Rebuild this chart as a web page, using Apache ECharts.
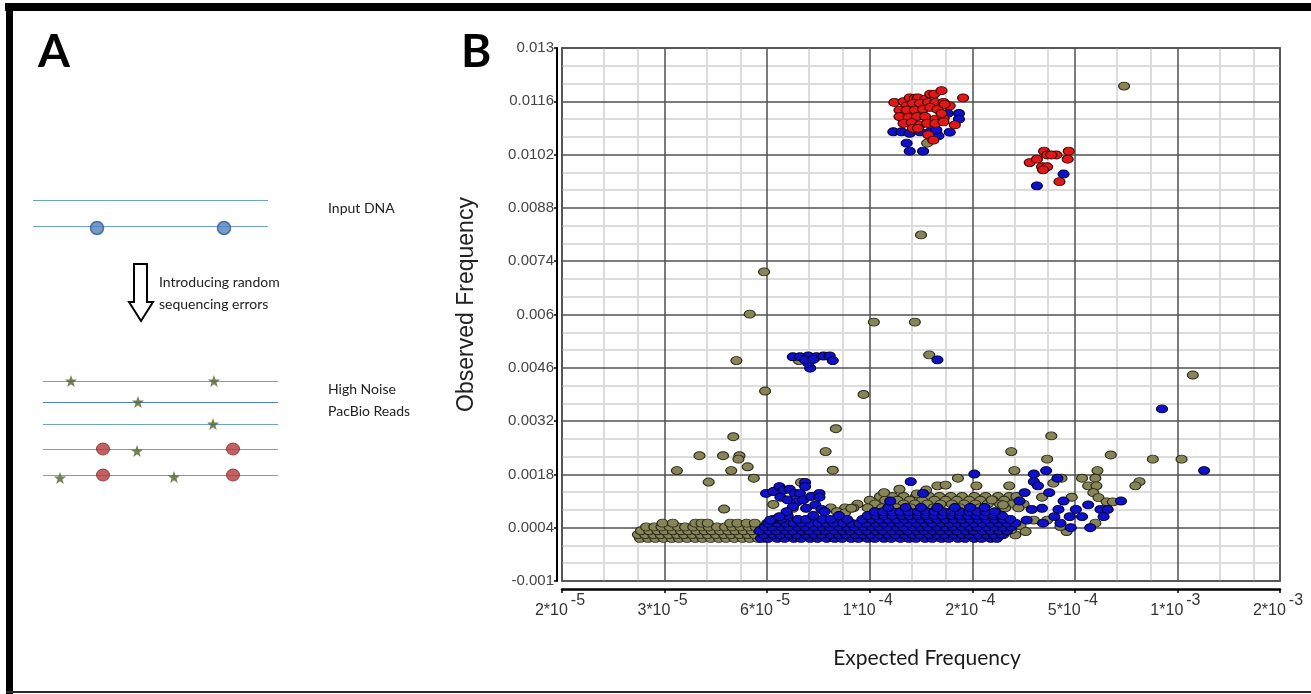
<!DOCTYPE html>
<html><head><meta charset="utf-8">
<script src="https://cdn.jsdelivr.net/npm/echarts@6/dist/echarts.min.js"></script>
<style>html,body{margin:0;padding:0;background:#fff}#c{width:1311px;height:694px}</style>
</head><body><div id="c"></div>
<script>
// ================= Panel B : scatter data =================
// x is the position on the Expected-Frequency axis: integer k = k-th tick label below
const xTickBase = ['2*10','3*10','6*10','1*10','2*10','5*10','1*10','2*10'];
const xTickExp  = ['-5','-5','-5','-4','-4','-4','-3','-3'];
const xMinorFractions = [0.41, 0.74];
const yTickValues = [-0.001, 0.0004, 0.0018, 0.0032, 0.0046, 0.006, 0.0074, 0.0088, 0.0102, 0.0116, 0.013];
const yTickLabels = ['-0.001','0.0004','0.0018','0.0032','0.0046','0.006','0.0074','0.0088','0.0102','0.0116','0.013'];

// khaki (grey-green) points: dense rows [observed, [expected positions]]
const khakiLeftRows = [
  [0.00012,[0.76,0.84,0.91,0.99,1.07,1.14,1.22,1.30,1.37,1.45,1.53,1.60,1.68,1.76,1.83,1.91,1.99]],
  [0.00022,[0.74,0.81,0.89,0.96,1.04,1.12,1.19,1.27,1.35,1.42,1.50,1.58,1.65,1.73,1.81,1.88,1.96]],
  [0.00032,[0.77,0.85,0.93,1.00,1.08,1.16,1.23,1.31,1.39,1.46,1.54,1.62,1.69,1.77,1.85,1.92]],
  [0.00042,[0.82,0.90,0.97,1.05,1.13,1.20,1.28,1.36,1.43,1.51,1.59,1.66,1.74,1.82,1.89,1.97]],
  [0.00052,[0.98,1.08,1.30,1.36,1.42,1.64,1.71,1.80,1.88,2.00]]
];
const khakiUpperRows = [
  [0.00122,[3.10,3.22,3.33,3.45,3.58,3.68,3.79,3.90,4.02,4.13,4.25,4.36]],
  [0.00112,[3.00,3.15,3.27,3.39,3.51,3.63,3.74,3.85,3.97,4.08,4.20,4.31,4.43]],
  [0.00102,[2.88,3.05,3.20,3.33,3.44,3.56,3.69,3.80,3.92,4.03,4.15,4.27,4.39,4.50]],
  [0.00092,[2.62,2.76,2.84,2.98,3.12,3.26,3.40,3.62,3.88,4.07,4.32,4.45]]
];
const khakiPoints = [
  [5.48,0.01200],[3.50,0.00809],[1.97,0.00712],[1.83,0.00601],[3.04,0.00580],[3.44,0.00580],
  [3.58,0.00494],[3.56,0.01050],[2.31,0.00479],[1.70,0.00479],[1.98,0.00399],[2.94,0.00390],
  [2.67,0.00300],[2.57,0.00240],[2.64,0.00191],[1.67,0.00279],[1.34,0.00229],[1.57,0.00229],
  [1.73,0.00229],[1.72,0.00220],[1.81,0.00200],[1.65,0.00190],[1.12,0.00190],[1.87,0.00170],
  [1.43,0.00160],[1.58,0.00089],[2.06,0.00101],[2.33,0.00159],[6.15,0.00441],[6.04,0.00220],
  [4.77,0.00281],[4.38,0.00240],[5.35,0.00231],[5.76,0.00220],[4.73,0.00220],[4.41,0.00190],
  [5.22,0.00190],[5.07,0.00170],[5.20,0.00170],[5.63,0.00161],[5.59,0.00150],[3.86,0.00170],
  [4.36,0.00150],[4.04,0.00150],[3.66,0.00150],[3.74,0.00152],[3.29,0.00141],[3.14,0.00132],
  [3.46,0.00129],[3.55,0.00139],[5.13,0.00150],[5.21,0.00150],[5.18,0.00132],[4.87,0.00170],
  [4.79,0.00157],[5.23,0.00119],[5.31,0.00108],[5.37,0.00108],[4.97,0.00120],[4.68,0.00120],
  [5.20,0.00052],[4.92,0.00030],[4.86,0.00043],[4.42,0.00021],[4.30,0.00021],[4.73,0.00060],
  [4.60,0.00060],[4.30,0.00100],[4.43,0.00122],[4.19,0.00113],[4.38,0.00035],[4.47,0.00045],
  [4.52,0.00030],[2.68,0.00082],[2.76,0.00079],[2.82,0.00091],[2.25,0.00091]
];

// blue points
const blueRows = [
  [0.00012,[1.94,2.01,2.10,2.17,2.26,2.33,2.42,2.49,2.58,2.66,2.73,2.82,2.89,2.98,3.05,3.14,3.21,3.30,3.38,3.45,3.54,3.61,3.70,3.77,3.86,3.93,4.02,4.09,4.18,4.24]],
  [0.00022,[1.97,2.06,2.13,2.22,2.29,2.38,2.46,2.53,2.62,2.70,2.77,2.86,2.94,3.01,3.10,3.18,3.25,3.34,3.42,3.49,3.58,3.66,3.73,3.82,3.90,3.97,4.06,4.14,4.21,4.29]],
  [0.00032,[1.93,2.02,2.09,2.18,2.25,2.34,2.41,2.50,2.57,2.66,2.74,2.81,2.90,2.97,3.06,3.13,3.22,3.30,3.37,3.46,3.53,3.62,3.69,3.78,3.85,3.94,4.01,4.10,4.18,4.26,4.34]],
  [0.00042,[1.98,2.05,2.14,2.21,2.30,2.37,2.46,2.54,2.61,2.70,2.78,2.85,2.94,3.02,3.09,3.18,3.26,3.33,3.42,3.50,3.57,3.66,3.74,3.81,3.90,3.98,4.05,4.14,4.22,4.30,4.38]],
  [0.00052,[2.01,2.10,2.18,2.26,2.33,2.42,2.50,2.58,2.65,2.74,2.82,2.90,2.97,3.06,3.14,3.22,3.29,3.38,3.46,3.54,3.61,3.70,3.78,3.86,3.93,4.02,4.10,4.18,4.26,4.34,4.42]],
  [0.00062,[2.06,2.14,2.30,2.38,2.54,2.62,2.78,2.93,3.02,3.10,3.18,3.26,3.34,3.42,3.50,3.58,3.66,3.74,3.82,3.90,3.98,4.06,4.14,4.22,4.30,4.37]],
  [0.00072,[2.20,2.45,2.70,2.98,3.06,3.14,3.22,3.31,3.39,3.47,3.55,3.63,3.71,3.80,3.88,3.96,4.04,4.12,4.21,4.29]],
  [0.00082,[3.05,3.13,3.22,3.30,3.38,3.47,3.55,3.63,3.72,3.80,3.88,3.97,4.05,4.13,4.22]],
  [0.00093,[3.18,3.35,3.50,3.66,3.83,3.98,4.12]]
];
const bluePoints = [
  [1.99,0.00130],[2.06,0.00135],[2.12,0.00148],[2.16,0.00139],[2.22,0.00141],[2.27,0.00130],
  [2.37,0.00159],[2.37,0.00148],[2.32,0.00130],[2.13,0.00120],[2.20,0.00113],[2.29,0.00108],
  [2.35,0.00113],[2.43,0.00122],[2.51,0.00130],[2.51,0.00120],[2.25,0.00095],[2.38,0.00091],
  [2.47,0.00100],[2.53,0.00088],[2.56,0.00082],[2.19,0.00082],[2.12,0.00069],[2.03,0.00060],
  [2.25,0.00489],[2.32,0.00489],[2.40,0.00491],[2.48,0.00489],[2.55,0.00491],[2.61,0.00491],
  [2.64,0.00479],[2.42,0.00459],[2.40,0.00472],[2.37,0.00481],[2.45,0.00482],
  [3.66,0.00481],[5.85,0.00352],[6.26,0.00190],
  [4.02,0.00181],[3.40,0.00161],[3.52,0.00130],[3.20,0.00110],[4.60,0.00181],[4.72,0.00190],
  [4.83,0.00170],[4.60,0.00161],[4.64,0.00150],[4.75,0.00132],[4.51,0.00132],[4.46,0.00110],
  [4.89,0.00110],[5.45,0.00110],[5.13,0.00100],[5.25,0.00088],[5.32,0.00088],[5.01,0.00088],
  [4.84,0.00088],[4.68,0.00091],[4.58,0.00088],[5.28,0.00069],[5.07,0.00069],[4.95,0.00069],
  [4.80,0.00069],[4.53,0.00060],[5.15,0.00040],[4.96,0.00040],[4.86,0.00052],[4.69,0.00052],
  [3.76,0.01128],[3.87,0.01128],[3.87,0.01113],[3.23,0.01080],[3.31,0.01080],[3.39,0.01076],
  [3.49,0.01080],[3.59,0.01080],[3.67,0.01069],[3.78,0.01079],[3.36,0.01050],[3.39,0.01029],
  [3.52,0.01029],[3.65,0.01085],[4.89,0.00969],[4.63,0.00938]
];

// red points
const redPoints = [
  [3.24,0.01157],[3.33,0.01159],[3.39,0.01169],[3.44,0.01168],[3.47,0.01169],[3.54,0.01165],
  [3.59,0.01179],[3.63,0.01179],[3.70,0.01188],[3.91,0.01169],[3.36,0.01148],[3.42,0.01155],
  [3.49,0.01155],[3.57,0.01157],[3.64,0.01157],[3.72,0.01157],[3.78,0.01148],[3.29,0.01137],
  [3.36,0.01137],[3.44,0.01137],[3.52,0.01139],[3.59,0.01144],[3.66,0.01139],[3.73,0.01152],
  [3.29,0.01120],[3.38,0.01118],[3.46,0.01120],[3.54,0.01120],[3.64,0.01113],[3.72,0.01115],
  [3.33,0.01102],[3.41,0.01104],[3.49,0.01098],[3.56,0.01102],[3.64,0.01102],[3.72,0.01106],
  [3.83,0.01098],[3.42,0.01089],[3.47,0.01089],[3.57,0.01072],[3.62,0.01058],[3.70,0.01128],
  [4.56,0.00999],[4.63,0.01008],[4.70,0.01029],[4.73,0.01019],[4.82,0.01019],[4.94,0.01029],
  [4.93,0.01008],[4.68,0.00988],[4.73,0.00988],[4.69,0.00980],[4.85,0.00949],[4.77,0.01019]
];

// ================= Panel A : schematic (diagram units) =================
const dnaStrands   = [[33,268,200],[33,268,226]];          // [xStart, xEnd, y]
const dnaVariants  = [[97,228],[224,228]];
const readStrands  = [[43,278,381],[43,278,402],[43,278,424],[43,278,449],[43,278,475]];
const readErrors   = [[71,381],[214,381],[138,402],[213,424],[137,451],[60,478],[174,477]];
const readVariants = [[103,449],[233,449],[103,475],[233,475]];
const arrowPoints  = [[134,264],[147,264],[147,302],[153,302],[141,321],[129,302],[134,302]];

// ---------------- build ----------------
function rowsToPoints(rows){ const out=[]; rows.forEach(r=>r[1].forEach(u=>out.push([u,r[0]]))); return out; }
const yMinor=[]; for(let i=0;i<yTickValues.length-1;i++){const a=yTickValues[i],b=yTickValues[i+1]; yMinor.push(a+(b-a)/3, a+2*(b-a)/3);}
const xMinor=[]; for(let k=0;k<xTickBase.length-1;k++){ xMinorFractions.forEach(f=>xMinor.push(k+f)); }

const FN='Liberation Sans, Arial';
const chart = echarts.init(document.getElementById('c'));
const starPath='path://M12,0.6 L14.9,8.5 L23.3,8.7 L16.6,13.8 L19.1,21.9 L12,17.2 L4.9,21.9 L7.4,13.8 L0.7,8.7 L9.1,8.5 Z';

const option = {
  animation:false,
  backgroundColor:'#fff',
  grid:[
    {left:562, top:48, width:718, height:533, show:true, borderColor:'#6e6e6e', borderWidth:2},
    {left:0, top:0, width:450, height:694, show:false}
  ],
  xAxis:[
    {gridIndex:0, type:'value', min:0, max:7, interval:1, position:'bottom', offset:8, z:2,
     axisLine:{show:true, onZero:false, lineStyle:{color:'#000', width:2.5}},
     axisTick:{show:true, length:4, lineStyle:{color:'#000', width:1.5}},
     axisLabel:{margin:12, formatter:v=>{const i=Math.round(v); return '{b|'+xTickBase[i]+'}{s|'+xTickExp[i]+'}';},
       rich:{b:{fontFamily:FN, fontSize:16, lineHeight:18, color:'#333', verticalAlign:'bottom'},
             s:{fontFamily:FN, fontSize:16, lineHeight:18, color:'#333', verticalAlign:'bottom', padding:[0,4,10,3]}}},
     splitLine:{show:true, lineStyle:{color:'#505050', width:1.5}},
     name:'Expected Frequency', nameLocation:'middle', nameGap:59,
     nameTextStyle:{fontFamily:'Lato', fontSize:21, color:'#1a1a1a', padding:[0,0,0,12]}},
    {gridIndex:0, type:'value', min:0, max:7, z:1, axisLine:{show:false}, axisLabel:{show:false},
     axisTick:{show:false, customValues:xMinor}, splitLine:{show:true, lineStyle:{color:'#dcdcdc', width:2}}},
    {gridIndex:1, type:'value', min:0, max:450, show:false}
  ],
  yAxis:[
    {gridIndex:0, type:'value', min:-0.001, max:0.013, offset:5, z:2,
     axisLine:{show:true, onZero:false, lineStyle:{color:'#000', width:2}},
     axisTick:{show:true, length:3, customValues:yTickValues, lineStyle:{color:'#000', width:1.5}},
     axisLabel:{customValues:yTickValues, margin:3, fontFamily:'Liberation Sans', fontSize:15, color:'#444',
       formatter:v=>{const i=yTickValues.findIndex(t=>Math.abs(t-v)<1e-9); return i>=0?yTickLabels[i]:'';}},
     splitLine:{show:true, lineStyle:{color:'#505050', width:1.5}},
     name:'Observed Frequency', nameLocation:'middle', nameGap:79,
     nameTextStyle:{fontFamily:'Liberation Sans', fontSize:23, color:'#222', padding:[0,0,0,20]}},
    {gridIndex:0, type:'value', min:-0.001, max:0.013, z:1, axisLine:{show:false}, axisLabel:{show:false},
     axisTick:{show:false, customValues:yMinor}, splitLine:{show:true, lineStyle:{color:'#dcdcdc', width:2}}},
    {gridIndex:1, type:'value', min:0, max:694, inverse:true, show:false}
  ],
  series:[
    {type:'scatter', name:'khaki', xAxisIndex:0, yAxisIndex:0, z:5, symbol:'circle', symbolSize:[11,8],
     data:rowsToPoints(khakiLeftRows).concat(rowsToPoints(khakiUpperRows), khakiPoints),
     itemStyle:{color:'#878457', borderColor:'#2a2a18', borderWidth:1, opacity:1}},
    {type:'scatter', name:'blue', xAxisIndex:0, yAxisIndex:0, z:6, symbol:'circle', symbolSize:[11,8],
     data:rowsToPoints(blueRows).concat(bluePoints),
     itemStyle:{color:'#1010c8', borderColor:'#000033', borderWidth:1, opacity:1}},
    {type:'scatter', name:'red', xAxisIndex:0, yAxisIndex:0, z:7, symbol:'circle', symbolSize:[11,8],
     data:redPoints,
     itemStyle:{color:'#e01818', borderColor:'#3d0000', borderWidth:1, opacity:1}},
    // Panel A
    {type:'lines', coordinateSystem:'cartesian2d', xAxisIndex:2, yAxisIndex:2, z:3, polyline:false,
     data:dnaStrands.concat(readStrands).map((s,i)=>({coords:[[s[0],s[2]],[s[1],s[2]]],
       lineStyle:{color: i===3 ? '#4a7fc4' : '#6f9fd8', width:1.2, opacity:1}})),
     lineStyle:{color:'#6f9fd8', width:1.2, opacity:1}},
    {type:'scatter', xAxisIndex:2, yAxisIndex:2, z:4, symbol:'circle', symbolSize:[13,13], data:dnaVariants,
     itemStyle:{color:'#4f81bd', borderColor:'#30598a', borderWidth:1.5}},
    {type:'scatter', xAxisIndex:2, yAxisIndex:2, z:4, symbol:'circle', symbolSize:[13,12], data:readVariants,
     itemStyle:{color:'#b23a3a', borderColor:'#8c2a2a', borderWidth:1}},
    {type:'scatter', xAxisIndex:2, yAxisIndex:2, z:4, symbol:starPath, symbolSize:[12,12], data:readErrors,
     itemStyle:{color:'#4f6228'}}
  ],
  graphic:[
    {type:'rect', z:100, shape:{x:5,y:3,width:1306,height:8}, style:{fill:'#000'}},
    {type:'rect', z:100, shape:{x:6,y:3,width:7,height:691}, style:{fill:'#000'}},
    {type:'rect', z:100, shape:{x:6,y:691,width:1305,height:2}, style:{fill:'#2a2a2a'}},
    {type:'text', z:100, x:38, y:52, style:{text:'A', font:'bold 46px Lato', fill:'#000', textVerticalAlign:'middle', verticalAlign:'middle'}},
    {type:'text', z:100, x:461, y:52, style:{text:'B', font:'bold 46px Lato', fill:'#000', textVerticalAlign:'middle', verticalAlign:'middle'}},
    {type:'text', z:100, x:328, y:208, style:{text:'Input DNA', font:'14px Lato', fill:'#222', textVerticalAlign:'middle', verticalAlign:'middle'}},
    {type:'text', z:100, x:159, y:282, style:{text:'Introducing random', font:'14px Lato', fill:'#222', textVerticalAlign:'middle', verticalAlign:'middle'}},
    {type:'text', z:100, x:159, y:304, style:{text:'sequencing errors', font:'14px Lato', fill:'#222', textVerticalAlign:'middle', verticalAlign:'middle'}},
    {type:'text', z:100, x:328, y:389, style:{text:'High Noise', font:'14px Lato', fill:'#222', textVerticalAlign:'middle', verticalAlign:'middle'}},
    {type:'text', z:100, x:328, y:411, style:{text:'PacBio Reads', font:'14px Lato', fill:'#222', textVerticalAlign:'middle', verticalAlign:'middle'}},
    {type:'polygon', z:100, shape:{points:arrowPoints}, style:{fill:'#fff', stroke:'#000', lineWidth:2}}
  ]
};
chart.setOption(option);
</script></body></html>
